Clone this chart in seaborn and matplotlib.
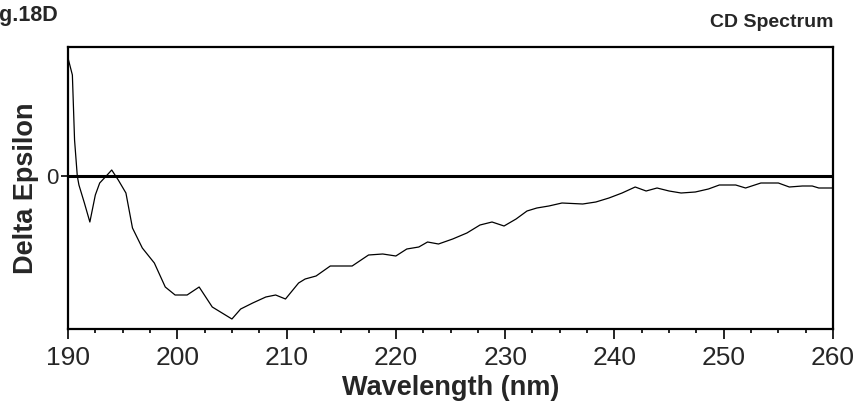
import numpy as np
import pandas as pd
import matplotlib
matplotlib.use("Agg")
import matplotlib.pyplot as plt
import seaborn as sns
from matplotlib.ticker import MultipleLocator

wavelength = [190.0, 190.4, 190.6, 190.85, 191.0, 191.5, 192.0, 192.5, 192.9, 193.5,
              194.0, 194.6, 195.3, 195.9, 196.8, 197.9, 198.9, 199.8, 200.9, 202.0,
              203.2, 204.1, 205.0, 205.8, 206.9, 208.1, 209.0, 209.9, 211.1, 211.7,
              212.7, 214.0, 216.0, 217.5, 218.8, 220.0, 221.0, 222.1, 222.9, 223.9,
              225.2, 226.5, 227.7, 228.8, 229.9, 231.0, 232.0, 232.9, 234.0, 235.2,
              237.1, 238.3, 239.5, 240.7, 241.9, 242.9, 243.9, 245.0, 246.1, 247.4,
              248.6, 249.6, 251.1, 252.0, 253.4, 255.0, 256.0, 257.2, 258.1, 258.7,
              260.0]
delta_eps = [11.8, 10.1, 3.6, 0.0, -0.9, -2.7, -4.6, -1.9, -0.7, 0.0,
             0.6, -0.4, -1.7, -5.2, -7.2, -8.7, -11.1, -11.9, -11.9, -11.1,
             -13.1, -13.7, -14.3, -13.3, -12.7, -12.1, -11.9, -12.3, -10.7, -10.3,
             -10.0, -9.0, -9.0, -7.9, -7.8, -8.0, -7.3, -7.1, -6.6, -6.8,
             -6.3, -5.7, -4.9, -4.6, -5.0, -4.3, -3.5, -3.2, -3.0, -2.7,
             -2.8, -2.6, -2.2, -1.7, -1.1, -1.5, -1.2, -1.5, -1.7, -1.6,
             -1.3, -0.9, -0.9, -1.2, -0.7, -0.7, -1.1, -1.0, -1.0, -1.2,
             -1.2]
x_ticks = [190, 200, 210, 220, 230, 240, 250, 260]
y_ticks = [0]

sns.set_style("white")
plt.rcParams['font.family'] = ['Liberation Sans', 'DejaVu Sans']

df = pd.DataFrame({"wl": wavelength, "de": delta_eps})

fig = plt.figure(figsize=(8.58, 4.04), dpi=100)
ax = fig.add_axes([68/858, 1 - 329/404, (833-68)/858, (329-46.7)/404])

ax.axhline(0, color="black", lw=2.2, zorder=1)
sns.lineplot(data=df, x="wl", y="de", ax=ax, color="black", lw=0.9, zorder=2)

ax.set_xlim(190, 260)
ax.set_ylim(-15.3, 12.93)
ax.set_xticks(x_ticks)
ax.set_xticklabels([str(t) for t in x_ticks])
ax.xaxis.set_minor_locator(MultipleLocator(2.5))
ax.set_yticks(y_ticks)
ax.set_yticklabels(["0"])

ax.tick_params(axis="x", which="major", direction="out", length=7, width=1.2,
               labelsize=19, pad=5, color="black", bottom=True)
ax.tick_params(axis="x", which="minor", direction="out", length=3, width=1.2,
               color="black", bottom=True)
ax.tick_params(axis="y", which="major", direction="out", length=5, width=1.2,
               labelsize=16, pad=2, color="black", left=True)

for s in ax.spines.values():
    s.set_visible(True)
    s.set_color("black")
    s.set_linewidth(1.6)

ax.set_xlabel("Wavelength (nm)", fontsize=19.5, fontweight="bold", labelpad=4)
ax.set_ylabel("Delta Epsilon", fontsize=19.5, fontweight="bold", labelpad=5)

fig.text(833/858, 1 - 27/404, "CD Spectrum", ha="right", va="baseline",
         fontsize=14, fontweight="bold")
fig.text(58/858, 1 - 21/404, "Fig.18D", ha="right", va="baseline",
         fontsize=15.5, fontweight="bold")

fig.savefig("out.png", dpi=100)
